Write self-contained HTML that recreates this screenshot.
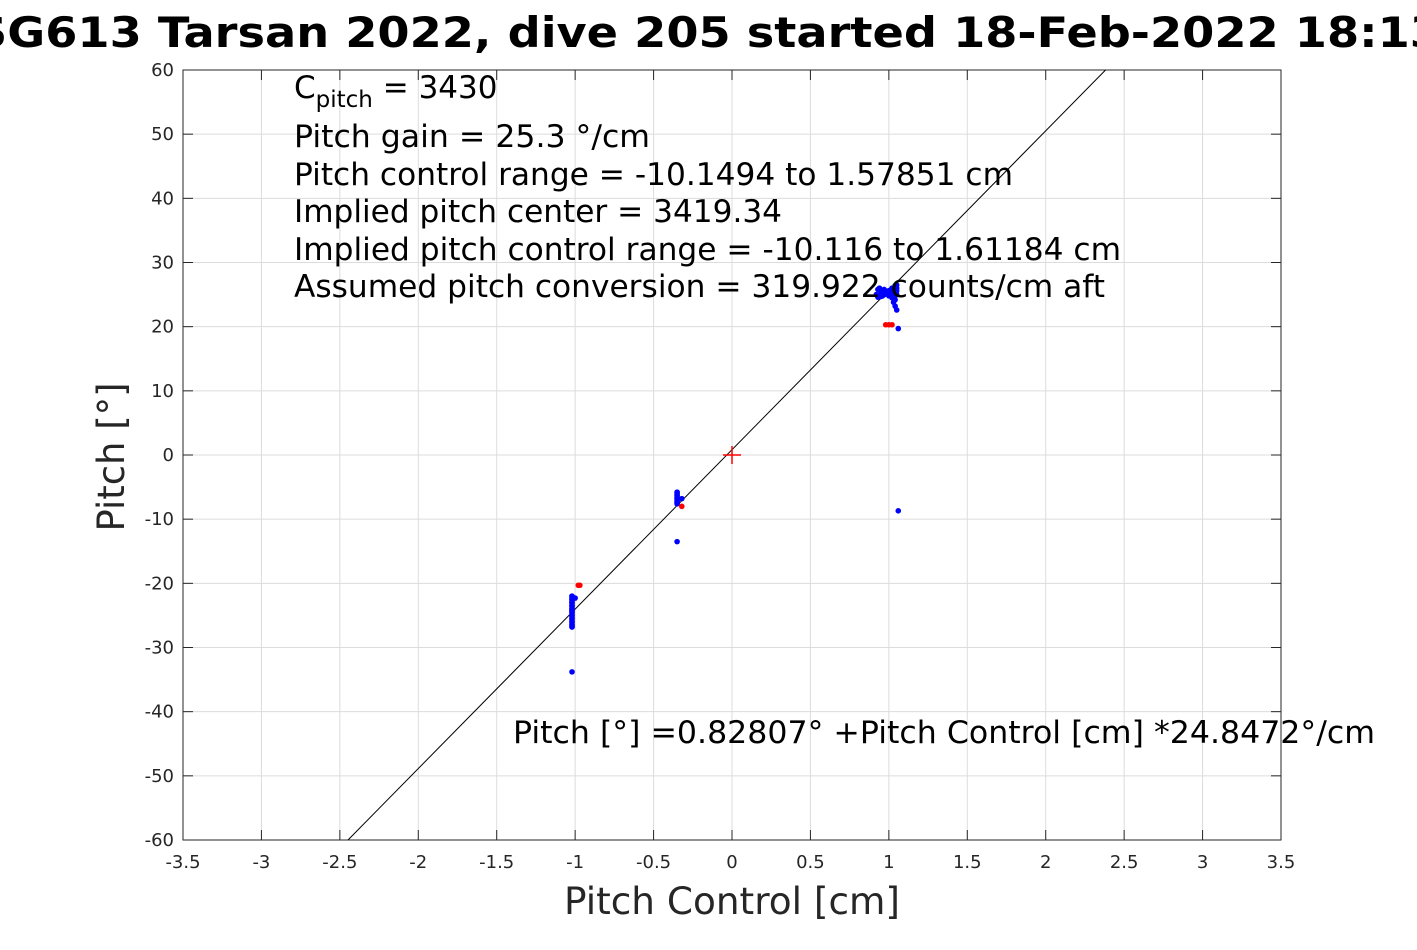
<!DOCTYPE html>
<html><head><meta charset="utf-8"><style>
body{margin:0;background:#fff;overflow:hidden;}
svg text{font-family:"DejaVu Sans","Liberation Sans",sans-serif;}
</style></head><body>
<svg width="1417" height="945" viewBox="0 0 1417 945" id="chart">
<text x="708" y="47" text-anchor="middle" font-size="42" font-weight="bold" fill="#000" textLength="1468" lengthAdjust="spacingAndGlyphs">SG613 Tarsan 2022, dive 205 started 18-Feb-2022 18:13</text>
<g id="grid"></g>
<rect x="183" y="70" width="1098" height="770" fill="none" stroke="#262626" stroke-width="1"/>
<g id="ticks"></g>
<g id="marks"></g>
<text x="732" y="914" text-anchor="middle" font-size="37" fill="#262626" textLength="336" lengthAdjust="spacingAndGlyphs">Pitch Control [cm]</text>
<text transform="translate(124,457) rotate(-90)" text-anchor="middle" font-size="37" fill="#262626" textLength="149" lengthAdjust="spacingAndGlyphs">Pitch [°]</text>
<g font-size="31" fill="#000">
<text x="294" y="98">C<tspan font-size="23" dy="9">pitch</tspan><tspan dy="-9"> = 3430</tspan></text>
<text x="294" y="147" textLength="356" lengthAdjust="spacingAndGlyphs">Pitch gain = 25.3 °/cm</text>
<text x="294" y="185" textLength="719" lengthAdjust="spacingAndGlyphs">Pitch control range = -10.1494 to 1.57851 cm</text>
<text x="294" y="222" textLength="488" lengthAdjust="spacingAndGlyphs">Implied pitch center = 3419.34</text>
<text x="294" y="260" textLength="827" lengthAdjust="spacingAndGlyphs">Implied pitch control range = -10.116 to 1.61184 cm</text>
<text x="294" y="297" textLength="811" lengthAdjust="spacingAndGlyphs">Assumed pitch conversion = 319.922 counts/cm aft</text>
<text x="513" y="743" textLength="862" lengthAdjust="spacingAndGlyphs">Pitch [°] =0.82807° +Pitch Control [cm] *24.8472°/cm</text>
</g>
</svg>
<script>
const xTicks=[-3.5,-3,-2.5,-2,-1.5,-1,-0.5,0,0.5,1,1.5,2,2.5,3,3.5];
const yTicks=[-60,-50,-40,-30,-20,-10,0,10,20,30,40,50,60];
const fitIntercept=0.82807;
const fitSlope=24.8472;
const blueX=[-1.02,-1.02,-1.02,-1.02,-1.02,-1.02,-1.02,-1.02,-1.02,-1.02,-1.02,-1.02,-1.0,-1.02,
 -0.35,-0.35,-0.35,-0.35,-0.35,-0.32,-0.35,
 0.92,0.93,0.95,0.97,0.99,1.01,1.03,1.04,1.05,0.94,0.96,1.0,1.02,1.04,1.05,1.03,1.04,1.05,1.06,1.06,
 0.93,0.95,0.97,1.02,1.05,1.05,1.04,0.98,1.0,1.03];
const blueY=[-22,-22.5,-23,-23.5,-24,-24.5,-25,-25.5,-26,-26.5,-26.8,-24.2,-22.3,-33.8,
 -5.8,-6.3,-6.8,-7.3,-7.6,-6.8,-13.5,
 25,25.8,25.3,25,25.5,25.2,25.8,26.4,25,26,24.8,24.8,24.5,24.2,25.6,23.8,23.2,22.6,19.7,-8.7,
 24.6,24.7,25.8,26,26.5,26,24.9,25.1,25.6,25.2];
const redX=[-0.98,-0.97,-0.32,0.98,1.0,1.02];
const redY=[-20.3,-20.3,-8.0,20.3,20.3,20.3];
const NS='http://www.w3.org/2000/svg';
const X0=183,X1=1281,Y0=840,Y1=70;
function sx(v){return X0+(v+3.5)/7*(X1-X0);}
function sy(v){return Y0-(v+60)/120*(Y0-Y1);}
function mk(t,a,p){const e=document.createElementNS(NS,t);for(const k in a)e.setAttribute(k,a[k]);p.appendChild(e);return e;}
const grid=document.getElementById('grid'),ticks=document.getElementById('ticks'),marks=document.getElementById('marks');
xTicks.forEach(v=>{const x=sx(v);
 const g=mk('line',{x1:x,x2:x,y1:Y1,y2:Y0,stroke:'#dcdcdc','stroke-width':1},grid);
 
 
 const t=mk('line',{x1:x,x2:x,y1:Y0,y2:Y0-10,stroke:'#262626'},ticks);
 
 
 const t2=mk('line',{x1:x,x2:x,y1:Y1,y2:Y1+10,stroke:'#262626'},ticks);
 
 
 const l=mk('text',{x:x,y:868,'text-anchor':'middle','font-size':18,fill:'#262626'},ticks);
 l.textContent=String(v);
 
 
});
yTicks.forEach(v=>{const y=sy(v);
 const g=mk('line',{x1:X0,x2:X1,y1:y,y2:y,stroke:'#dcdcdc','stroke-width':1},grid);
 
 
 const t=mk('line',{x1:X0,x2:X0+10,y1:y,y2:y,stroke:'#262626'},ticks);
 
 
 const t2=mk('line',{x1:X1,x2:X1-10,y1:y,y2:y,stroke:'#262626'},ticks);
 
 
 const l=mk('text',{x:174,y:y+6,'text-anchor':'end','font-size':18,fill:'#262626'},ticks);
 l.textContent=String(v);
 
 
});
const xa=(-60-fitIntercept)/fitSlope,xb=(60-fitIntercept)/fitSlope;
const fl=mk('line',{x1:sx(xa),y1:sy(-60),x2:sx(xb),y2:sy(60),stroke:'#000','stroke-width':1},marks);


blueX.forEach((v,i)=>{const c=mk('circle',{cx:sx(v),cy:sy(blueY[i]),r:2.8,fill:'#0000ff'},marks);
 
 });
[[-1.02,-22,-26.8],[-0.35,-5.8,-7.6]].forEach(s=>{const r=mk('line',{x1:sx(s[0]),x2:sx(s[0]),y1:sy(s[1]),y2:sy(s[2]),stroke:'#0000ff','stroke-width':5.5,'stroke-linecap':'round'},marks);
 
 });
redX.forEach((v,i)=>{const c=mk('circle',{cx:sx(v),cy:sy(redY[i]),r:2.8,fill:'#ff0000'},marks);
 
 });
const cx=sx(0),cy=sy(0);
const p=mk('path',{d:`M${cx-9},${cy}H${cx+9}M${cx},${cy-9}V${cy+9}`,stroke:'#ff0000','stroke-width':1.5,fill:'none'},marks);


</script>
</body></html>
